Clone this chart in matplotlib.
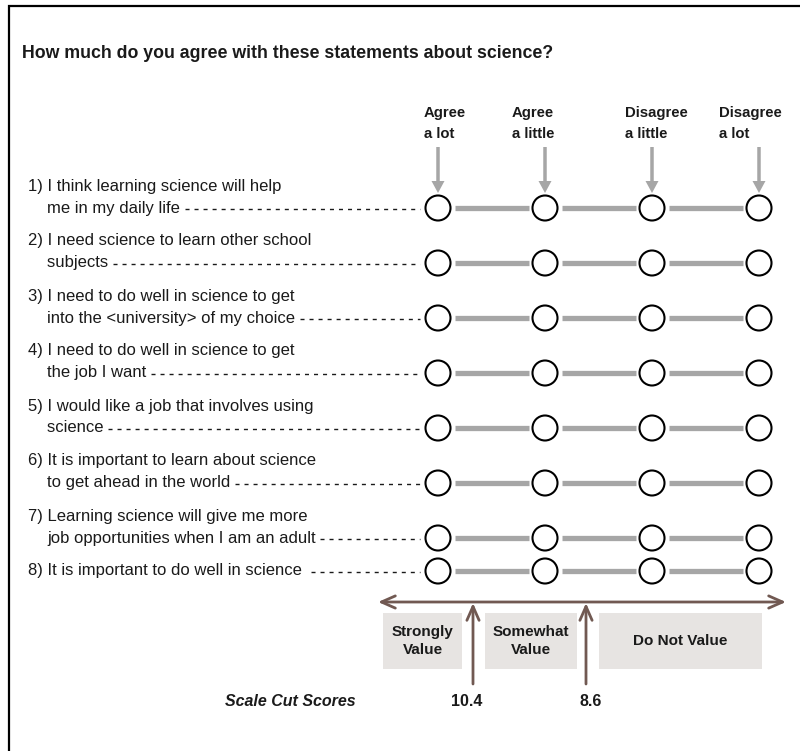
import matplotlib
matplotlib.use('Agg')
import matplotlib.pyplot as plt
from matplotlib.patches import Circle, Rectangle, FancyArrow

plt.rcParams['font.family'] = ['Liberation Sans', 'DejaVu Sans']

# ---------------- data ----------------
title = "How much do you agree with these statements about science?"
statements_line1 = [
    "1) I think learning science will help",
    "2) I need science to learn other school",
    "3) I need to do well in science to get",
    "4) I need to do well in science to get",
    "5) I would like a job that involves using",
    "6) It is important to learn about science",
    "7) Learning science will give me more",
    "8) It is important to do well in science ",
]
statements_line2 = [
    "me in my daily life",
    "subjects",
    "into the <university> of my choice",
    "the job I want",
    "science",
    "to get ahead in the world",
    "job opportunities when I am an adult",
    "",
]
response_top = ["Agree", "Agree", "Disagree", "Disagree"]
response_bottom = ["a lot", "a little", "a little", "a lot"]
bands = ["Strongly\nValue", "Somewhat\nValue", "Do Not Value"]
cut_scores = [10.4, 8.6]
cut_label = "Scale Cut Scores"

# ---------------- layout (pixels) ----------------
W, H = 800, 751
col_x0, col_dx = 438, 107
row_y0, row_dy = 208, 55
rad = 12.5
header_left = [424, 512, 625, 719]
band_spans = [(383, 462), (485, 577), (599, 762)]
cut_x = [473, 586]
cut_label_x = [467, 591]

GREY = '#A6A6A6'
BROWN = '#715952'
BOXC = '#E7E4E2'
TXT = '#1a1a1a'

fig = plt.figure(figsize=(W / 100, H / 100), dpi=100)
ax = fig.add_axes([0, 0, 1, 1])
ax.set_xlim(0, W)
ax.set_ylim(H, 0)
ax.axis('off')

# frame
ax.plot([9, 9, W], [H, 6, 6], color='black', lw=1.6, solid_joinstyle='miter')

ax.text(22, 54, title, fontsize=12.8, fontweight='bold', color=TXT, va='center', ha='left')

cols = [col_x0 + i * col_dx for i in range(len(response_top))]
rows = []
for j in range(len(statements_line1)):
    if j == 0:
        rows.append(row_y0)
    elif statements_line2[j]:
        rows.append(rows[-1] + row_dy)
    else:
        # single-line statement: sits where the next first line would be
        rows.append(rows[-1] + row_dy - 22)

# headers + grey arrows
for i, x in enumerate(cols):
    ax.text(header_left[i], 113, response_top[i], fontsize=10.7, fontweight='bold',
            color=TXT, ha='left', va='center')
    ax.text(header_left[i], 134, response_bottom[i], fontsize=10.7, fontweight='bold',
            color=TXT, ha='left', va='center')
    ax.add_patch(FancyArrow(x, 147, 0, 46, width=3.5, head_width=13, head_length=12,
                            length_includes_head=True, color=GREY, lw=0))

renderer = fig.canvas.get_renderer()
inv = ax.transData.inverted()

for j, y in enumerate(rows):
    if statements_line2[j]:
        ax.text(28, y - 22, statements_line1[j], fontsize=12, color=TXT, ha='left', va='center')
        t = ax.text(47, y, statements_line2[j] + " ", fontsize=12, color=TXT, ha='left', va='center')
    else:
        t = ax.text(28, y, statements_line1[j] + " ", fontsize=12, color=TXT, ha='left', va='center')
    bb = t.get_window_extent(renderer=renderer)
    x_end = inv.transform((bb.x1, 0))[0]
    ax.plot([x_end, cols[0] - rad - 6], [y + 1, y + 1], color=TXT, lw=1.0,
            dashes=(2.9, 3.6))
    for i in range(len(cols) - 1):
        ax.plot([cols[i] + rad + 4, cols[i + 1] - rad - 4], [y, y], color=GREY, lw=3.8,
                solid_capstyle='butt')
    for x in cols:
        ax.add_patch(Circle((x, y), rad, facecolor='white', edgecolor='black', lw=1.5, zorder=3))

# bottom scale
ax.annotate('', xy=(378, 602), xytext=(786, 602),
            arrowprops=dict(arrowstyle='<->,head_length=0.5,head_width=0.22', color=BROWN,
                            lw=2, mutation_scale=20, shrinkA=0, shrinkB=0))
for (x0, x1), lab in zip(band_spans, bands):
    ax.add_patch(Rectangle((x0, 613), x1 - x0, 56, facecolor=BOXC, edgecolor='none'))
    ax.text((x0 + x1) / 2, 641, lab, fontsize=11, fontweight='bold', color=TXT,
            ha='center', va='center', linespacing=1.3)
for x, lx, s in zip(cut_x, cut_label_x, cut_scores):
    ax.annotate('', xy=(x, 603), xytext=(x, 684),
                arrowprops=dict(arrowstyle='->,head_length=0.5,head_width=0.22', color=BROWN,
                                lw=2, mutation_scale=20, shrinkA=0, shrinkB=0))
    ax.text(lx, 702, f"{s:.1f}", fontsize=11.5, fontweight='bold', color=TXT,
            ha='center', va='center')
ax.text(290, 702, cut_label, fontsize=11.5, fontweight='bold', fontstyle='italic',
        color=TXT, ha='center', va='center')

fig.savefig('out.png', dpi=100)
